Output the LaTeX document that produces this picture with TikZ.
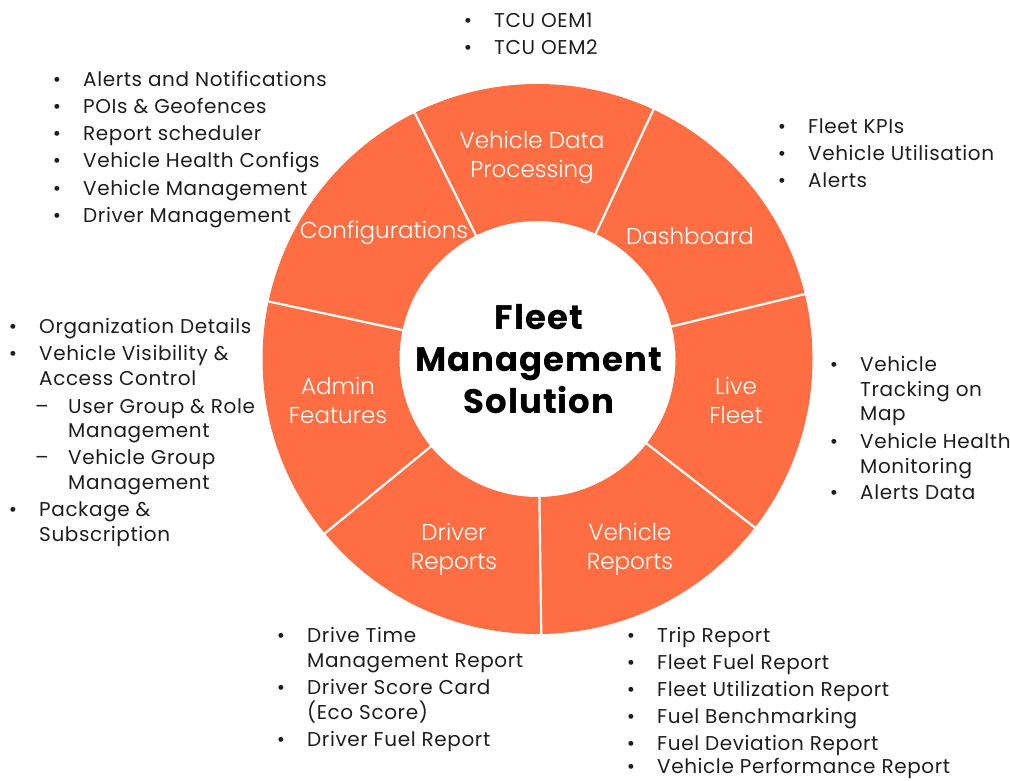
\documentclass[tikz,border=0pt]{standalone}
\usepackage{fontspec}
\setmainfont{Poppins}
\newfontfamily\seglight{Poppins Light}
\definecolor{ringc}{HTML}{FF6E42}
\definecolor{txtc}{HTML}{1E1E1E}
\newcommand\bitem[4]{\node[bul] (#1b) at (#2-26,#3+5) {\textbullet}; \node[lst] (#1) at (#2,#3+5) {#4};}
\newcommand\ditem[4]{\node[bul] (#1b) at (#2-26,#3+5) {--}; \node[lst] (#1) at (#2,#3+5) {#4};}
\newcommand\wline[4]{\node[lst] (#1) at (#2,#3+5) {#4};}
\begin{document}
\begin{tikzpicture}[x=1pt,y=-1pt,
  lst/.style={font=\fontsize{20}{20}\selectfont\addfontfeature{LetterSpace=3}, anchor=mid west, inner sep=0pt, text=txtc},
  bul/.style={lst, anchor=mid},
  seglab/.style={font=\seglight\fontsize{23}{29}\selectfont, text=white, align=center, inner sep=0pt},
  ctr/.style={font=\bfseries\fontsize{34}{42}\selectfont\addfontfeature{LetterSpace=3}, align=center, inner sep=0pt},
  sep/.style={white, line width=2.2pt}]
\useasboundingbox (0,0) rectangle (1010,781);
\coordinate (c) at (537.5,359);
% ring
\begin{scope}[shift={(c)}]
  \fill[ringc, even odd rule] (0,0) circle[radius=275pt] (0,0) circle[radius=138pt];
  \foreach \k in {0,...,6}
    \draw[sep] ({116.5-\k*360/7}:136pt) -- ({116.5-\k*360/7}:278pt);
\end{scope}
% segment labels
\node[seglab] (vdp) at (532,157) {Vehicle Data\\Processing};
\node[seglab] (cfg) at (384,233) {Configurations};
\node[seglab] (dash) at (690,236) {Dashboard};
\node[seglab] (adm) at (338,400) {Admin\\Features};
\node[seglab] (live) at (736,400) {Live\\Fleet};
\node[seglab] (drv) at (454,549) {Driver\\Reports};
\node[seglab] (veh) at (630,549) {Vehicle\\Reports};
\node[ctr] (center) at (539,359) {Fleet\\Management\\Solution};
% top list
\bitem{t1}{494}{20}{TCU OEM1}
\bitem{t2}{494}{47}{TCU OEM2}
% top-left list
\bitem{a1}{83}{79}{Alerts and Notifications}
\bitem{a2}{83}{106}{POIs \& Geofences}
\bitem{a3}{83}{133}{Report scheduler}
\bitem{a4}{83}{160}{Vehicle Health Configs}
\bitem{a5}{83}{188}{Vehicle Management}
\bitem{a6}{83}{215}{Driver Management}
% dashboard list
\bitem{d1}{808}{126}{Fleet KPIs}
\bitem{d2}{808}{153}{Vehicle Utilisation}
\bitem{d3}{808}{180}{Alerts}
% admin list
\bitem{m1}{39}{326}{Organization Details}
\bitem{m2}{39}{353}{Vehicle Visibility \&}
\wline{m2w}{39}{378}{Access Control}
\ditem{m3}{68}{406}{User Group \& Role}
\wline{m3w}{68}{430}{Management}
\ditem{m4}{68}{457}{Vehicle Group}
\wline{m4w}{68}{482}{Management}
\bitem{m5}{39}{509}{Package \&}
\wline{m5w}{39}{534}{Subscription}
% live fleet list
\bitem{l1}{860}{364}{Vehicle}
\wline{l1w}{860}{389}{Tracking on}
\wline{l1x}{860}{413}{Map}
\bitem{l2}{860}{441}{Vehicle Health}
\wline{l2w}{860}{466}{Monitoring}
\bitem{l3}{860}{492}{Alerts Data}
% driver reports list
\bitem{r1}{307}{635}{Drive Time}
\wline{r1w}{307}{660}{Management Report}
\bitem{r2}{307}{687}{Driver Score Card}
\wline{r2w}{307}{712}{(Eco Score)}
\bitem{r3}{307}{739}{Driver Fuel Report}
% vehicle reports list
\bitem{v1}{657}{635}{Trip Report}
\bitem{v2}{657}{662}{Fleet Fuel Report}
\bitem{v3}{657}{689}{Fleet Utilization Report}
\bitem{v4}{657}{716}{Fuel Benchmarking}
\bitem{v5}{657}{743}{Fuel Deviation Report}
\bitem{v6}{657}{766}{Vehicle Performance Report}
\end{tikzpicture}
\end{document}
